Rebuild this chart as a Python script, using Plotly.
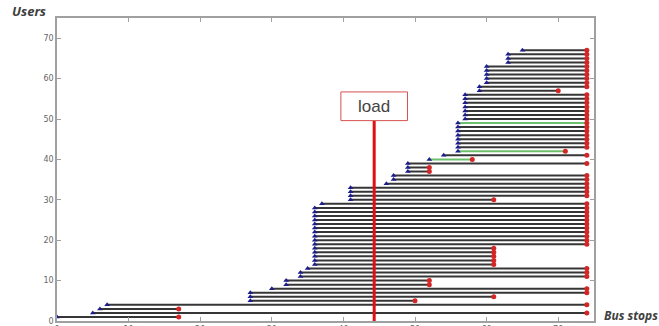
import plotly.graph_objects as go

# ---- data: one entry per user (user id, boarding stop, alighting stop) ----
users = list(range(1, 68))
start_stops = [0, 5, 6, 7, 27, 27, 27, 30, 32, 32,
               34, 34, 35, 36, 36, 36, 36, 36, 36, 36,
               36, 36, 36, 36, 36, 36, 36, 36, 37, 41,
               41, 41, 41, 46, 47, 47, 49, 49, 49, 52,
               54, 56, 56, 56, 56, 56, 56, 56, 56, 57,
               57, 57, 57, 57, 57, 57, 59, 59, 60, 60,
               60, 60, 60, 63, 63, 63, 65]
end_stops = [17, 74, 17, 74, 50, 61, 74, 74, 52, 52,
             74, 74, 74, 61, 61, 61, 61, 61, 74, 74,
             74, 74, 74, 74, 74, 74, 74, 74, 74, 61,
             74, 74, 74, 74, 74, 74, 52, 52, 74, 58,
             74, 71, 74, 74, 74, 74, 74, 74, 74, 74,
             74, 74, 74, 74, 74, 74, 70, 74, 74, 74,
             74, 74, 74, 74, 74, 74, 74]
highlighted_users = [40, 42, 49]   # drawn in green
load_stop = 44.3
load_label = "load"
x_ticks = [0, 10, 20, 30, 40, 50, 60, 70]
y_ticks = [0, 10, 20, 30, 40, 50, 60, 70]

LINE_DARK = "#363636"
LINE_GREEN = "#6cc06c"
BLUE = "#1c1c8c"
RED = "#d42626"

def segs(sel):
    xs, ys = [], []
    for u, s, e in zip(users, start_stops, end_stops):
        if sel(u):
            xs += [s, e, None]
            ys += [u, u, None]
    return xs, ys

fig = go.Figure()
xd, yd = segs(lambda u: u not in highlighted_users)
fig.add_trace(go.Scatter(x=xd, y=yd, mode="lines",
                         line=dict(color=LINE_DARK, width=2), hoverinfo="skip"))
xg, yg = segs(lambda u: u in highlighted_users)
fig.add_trace(go.Scatter(x=xg, y=yg, mode="lines",
                         line=dict(color=LINE_GREEN, width=2), hoverinfo="skip"))
fig.add_trace(go.Scatter(x=start_stops, y=users, mode="markers",
                         marker=dict(symbol="triangle-up", size=5, color=BLUE)))
fig.add_trace(go.Scatter(x=end_stops, y=users, mode="markers",
                         marker=dict(symbol="circle", size=5, color=RED)))

# load marker: vertical red line and labelled box
box_bottom, box_top = 49.6, 56.7
box_half = 4.65
fig.add_trace(go.Scatter(x=[load_stop, load_stop], y=[0, box_bottom], mode="lines",
                         line=dict(color="#e01010", width=3), hoverinfo="skip"))
fig.add_shape(type="rect", x0=load_stop - box_half, x1=load_stop + box_half,
              y0=box_bottom, y1=box_top, xref="x", yref="y",
              line=dict(color="#d85050", width=1), fillcolor="white")
fig.add_annotation(x=load_stop, y=(box_bottom + box_top) / 2, text=load_label,
                   showarrow=False, xref="x", yref="y",
                   font=dict(family="Liberation Sans", size=17, color="#444444"))

fig.add_annotation(text="<b><i>Users</i></b>", xref="paper", yref="paper",
                   x=-0.088, y=1.022, xanchor="left", yanchor="middle", showarrow=False,
                   font=dict(family="Open Sans", size=13, color="#404040"))
fig.add_annotation(text="<b><i>Bus stops</i></b>", xref="paper", yref="paper",
                   x=1.014, y=0.018, xanchor="left", yanchor="middle", showarrow=False,
                   font=dict(family="Open Sans", size=12, color="#404040"))

axis_common = dict(showgrid=False, zeroline=False, showline=True, linecolor="#a0a0a0",
                   linewidth=1.5, mirror="ticks", ticks="inside", ticklen=4,
                   tickcolor="#a0a0a0", automargin=False,
                   tickfont=dict(family="DejaVu Sans", size=8, color="#666666"))
fig.update_xaxes(range=[0, 75], tickvals=x_ticks, **axis_common)
fig.update_yaxes(range=[0, 75], tickvals=y_ticks, **axis_common)

fig.update_layout(width=659, height=326, showlegend=False,
                  margin=dict(l=57, r=65, t=18, b=5, pad=0),
                  plot_bgcolor="white", paper_bgcolor="white")
fig.write_html("out.html", config={"displayModeBar": False},
               post_script="document.body.style.margin='0';")
